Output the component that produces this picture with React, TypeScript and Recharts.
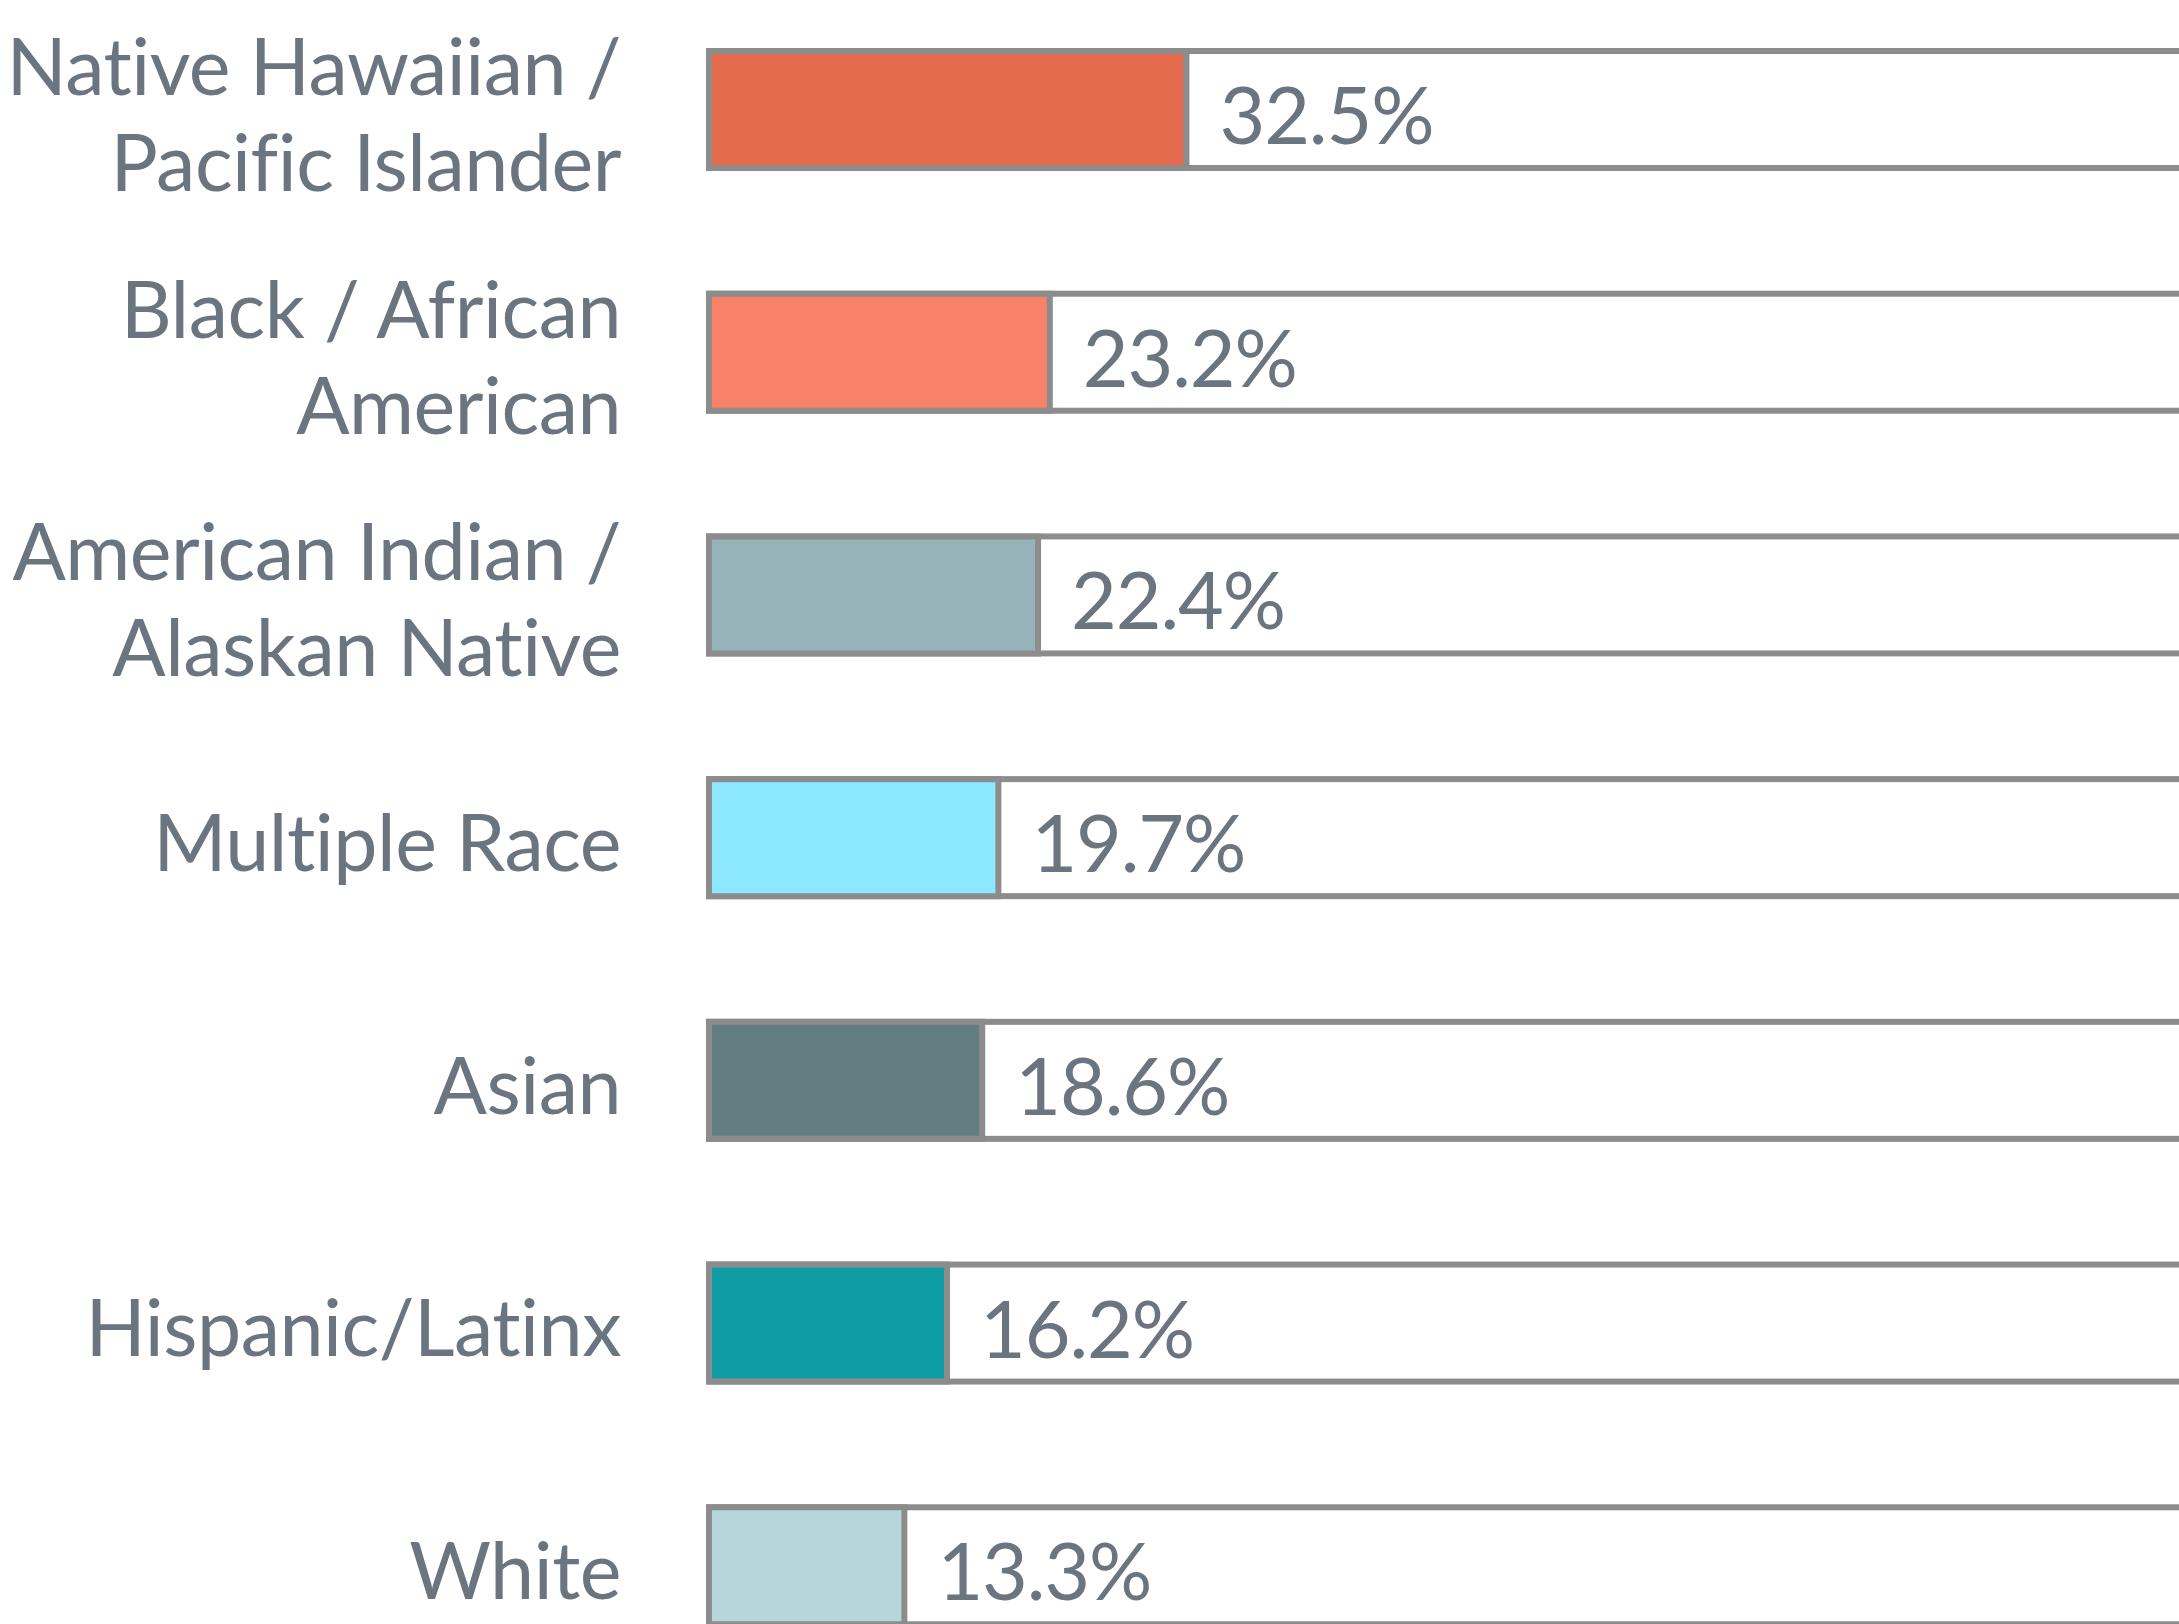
import React from "react";
import { BarChart, Bar, XAxis, YAxis, Cell, LabelList } from "recharts";

const categories = [
  "Native Hawaiian /\nPacific Islander",
  "Black / African\nAmerican",
  "American Indian /\nAlaskan Native",
  "Multiple Race",
  "Asian",
  "Hispanic/Latinx",
  "White",
];
const values = [32.5, 23.2, 22.4, 19.7, 18.6, 16.2, 13.3];
const colors = ["#e56b4e", "#f88267", "#95b3b8", "#8be8fe", "#627e82", "#0e9da4", "#b7d6db"];

const data = categories.map((c, i) => ({ name: c, value: values[i] }));

const TEXT = "#6b7580";
const BORDER = "#8c8c8c";
const FONT = "Lato, 'Open Sans', sans-serif";
const FS = 79;
const LH = 96;
const CAT_STYLE: React.CSSProperties = { fontFeatureSettings: '"liga" 0', letterSpacing: -0.5 };
const VAL_STYLE: React.CSSProperties = { fontFeatureSettings: '"liga" 0', letterSpacing: -1.1 };

const CategoryTick = (props: any) => {
  const { x, y, payload } = props;
  const lines: string[] = String(payload.value).split("\n");
  const start = -((lines.length - 1) * LH) / 2;
  return (
    <text x={x} y={y} textAnchor="end" fill={TEXT} fontFamily={FONT} fontSize={FS} style={CAT_STYLE}>
      {lines.map((l, i) => (
        <tspan key={i} x={x} y={y + start + i * LH + 3} dominantBaseline="central">
          {l}
        </tspan>
      ))}
    </text>
  );
};

const ValueLabel = (props: any) => {
  const { x, y, width, height, value } = props;
  return (
    <text
      x={x + width + 33}
      y={y + height / 2 + 4}
      fill={TEXT}
      fontFamily={FONT}
      fontSize={FS}
      style={VAL_STYLE}
      dominantBaseline="central"
    >
      {`${value}%`}
    </text>
  );
};

const Track = (props: any) => {
  const { x, y, width, height } = props;
  return (
    <rect x={x} y={y} width={width + 40} height={height} fill="#ffffff" stroke={BORDER} strokeWidth={6} />
  );
};

export default function App() {
  return (
    <div
      style={{
        position: "absolute",
        left: 0,
        top: 0,
        width: 2179,
        height: 1624,
        overflow: "hidden",
        background: "#ffffff",
      }}
    >
      <div style={{ position: "absolute", left: 0, top: -40 }}>
        <BarChart
          width={2179}
          height={1760}
          data={data}
          layout="vertical"
          margin={{ top: 28, right: 1, bottom: 33, left: 0 }}
          style={{ overflow: "visible" }}
        >
          <XAxis type="number" domain={[0, 100]} hide />
          <YAxis
            type="category"
            dataKey="name"
            width={709}
            axisLine={false}
            tickLine={false}
            tickSize={0}
            tickMargin={88}
            tick={<CategoryTick />}
            interval={0}
          />
          <Bar
            dataKey="value"
            barSize={117}
            isAnimationActive={false}
            stroke={BORDER}
            strokeWidth={6}
            background={<Track />}
          >
            {data.map((d, i) => (
              <Cell key={i} fill={colors[i]} />
            ))}
            <LabelList dataKey="value" content={<ValueLabel />} />
          </Bar>
        </BarChart>
      </div>
    </div>
  );
}
